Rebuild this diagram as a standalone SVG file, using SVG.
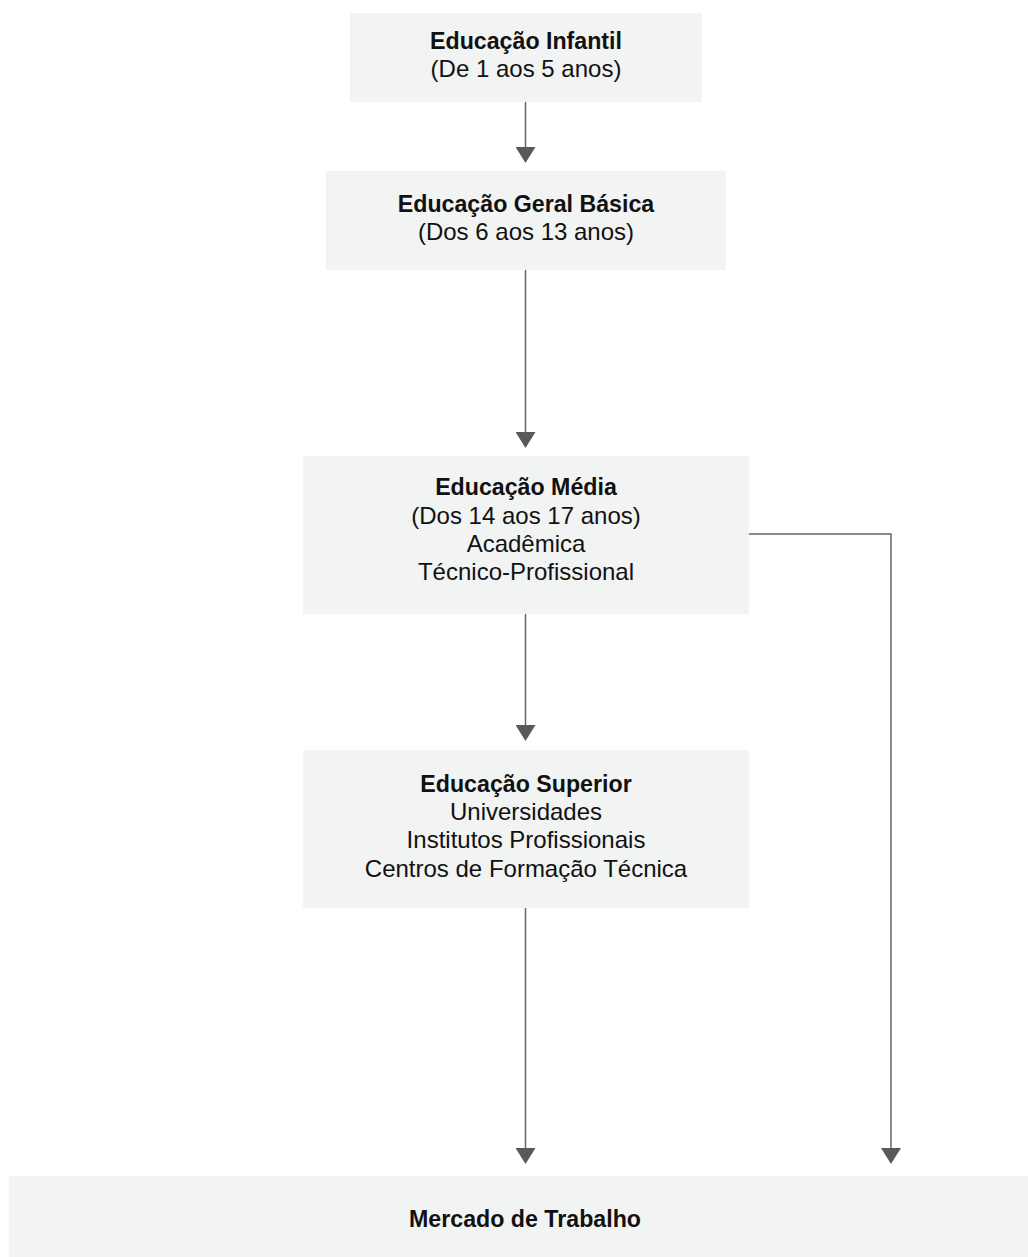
<svg xmlns="http://www.w3.org/2000/svg" width="1028" height="1257" viewBox="0 0 1028 1257">
  <style>
    .box { fill: #f2f3f3; }
    text { font-family: "Liberation Sans", Arial, sans-serif; fill: #111; text-anchor: middle; }
    .t { font-weight: bold; font-size: 23.2px; }
    .r { font-size: 24px; }
    .conn { fill: none; stroke: #666; stroke-width: 1.5; }
  </style>
  <defs>
    <marker id="ah" markerUnits="userSpaceOnUse" markerWidth="16" markerHeight="20" refX="0" refY="10" orient="auto">
      <path d="M0,0 L16,10 L0,20 z" fill="#58595b"/>
    </marker>
  </defs>
  <rect width="1028" height="1257" fill="#ffffff"/>

  <g id="n1">
    <rect class="box" x="350" y="13" width="352" height="89"/>
    <text class="t" x="526" y="49">Educação Infantil</text>
    <text class="r" x="526" y="77">(De 1 aos 5 anos)</text>
  </g>
  <g id="n2">
    <rect class="box" x="326" y="171" width="400" height="99"/>
    <text class="t" x="526" y="212">Educação Geral Básica</text>
    <text class="r" x="526" y="240">(Dos 6 aos 13 anos)</text>
  </g>
  <g id="n3">
    <rect class="box" x="303" y="456" width="446" height="158"/>
    <text class="t" x="526" y="495">Educação Média</text>
    <text class="r" x="526" y="524">(Dos 14 aos 17 anos)</text>
    <text class="r" x="526" y="552">Acadêmica</text>
    <text class="r" x="526" y="580">Técnico-Profissional</text>
  </g>
  <g id="n4">
    <rect class="box" x="303" y="750" width="446" height="158"/>
    <text class="t" x="526" y="792">Educação Superior</text>
    <text class="r" x="526" y="820">Universidades</text>
    <text class="r" x="526" y="848">Institutos Profissionais</text>
    <text class="r" x="526" y="877">Centros de Formação Técnica</text>
  </g>
  <g id="n5">
    <rect class="box" x="9" y="1176" width="1019" height="81"/>
    <text class="t" x="525" y="1227">Mercado de Trabalho</text>
  </g>

  <g id="connectors">
    <path class="conn" d="M525.5,102 V147" marker-end="url(#ah)"/>
    <path class="conn" d="M525.5,270 V432" marker-end="url(#ah)"/>
    <path class="conn" d="M525.5,614 V725" marker-end="url(#ah)"/>
    <path class="conn" d="M525.5,908 V1148" marker-end="url(#ah)"/>
    <path class="conn" d="M749,534 H891 V1148" marker-end="url(#ah)"/>
  </g>
</svg>
